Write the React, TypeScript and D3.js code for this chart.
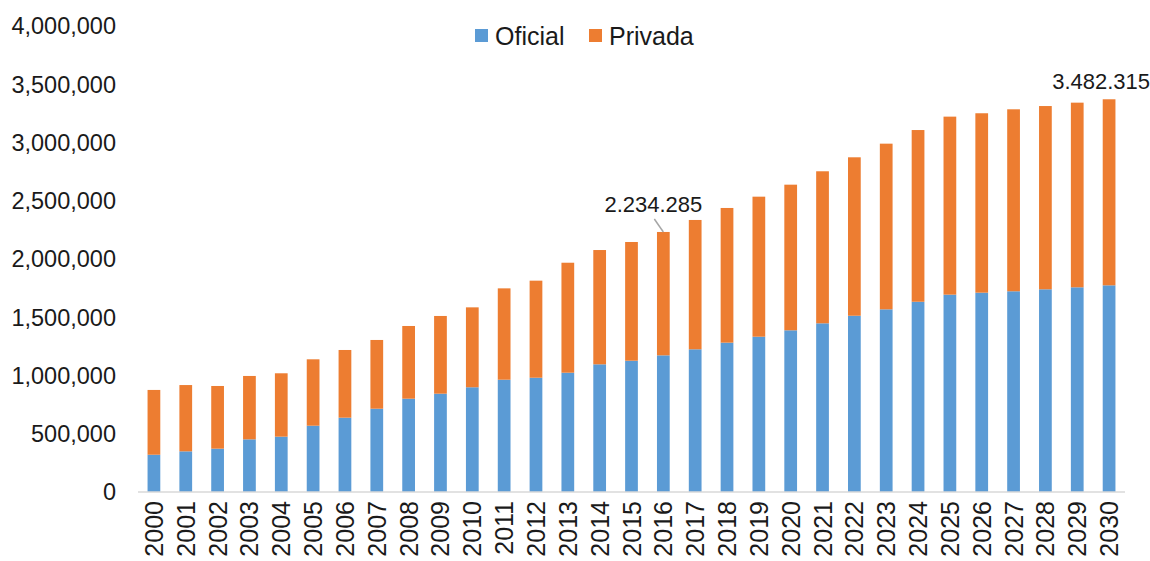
import React, { useEffect } from "react";
import * as d3 from "d3";

const years: string[] = d3.range(2000, 2031).map(String);
// values in thousands
const oficial: number[] = [320, 349, 372, 452, 475, 569, 638, 715, 801, 844, 899, 964, 981, 1024, 1096, 1127, 1173, 1225, 1282, 1333, 1388, 1448, 1513, 1568, 1633, 1694, 1711, 1723, 1740, 1757, 1774];
const privada: number[] = [556, 569, 538, 544, 544, 570, 581, 590, 624, 667, 686, 784, 833, 944, 981, 1019, 1059, 1110, 1156, 1202, 1250, 1305, 1360, 1422, 1474, 1528, 1540, 1562, 1573, 1585, 1597];
const yTicks: number[] = [0, 500000, 1000000, 1500000, 2000000, 2500000, 3000000, 3500000, 4000000];
const seriesNames: string[] = ["Oficial", "Privada"];
const seriesColors: string[] = ["#5B9BD5", "#ED7D31"];
const annotations: { year: string; label: string; leader: boolean }[] = [
  { year: "2016", label: "2.234.285", leader: true },
  { year: "2030", label: "3.482.315", leader: false },
];

const W = 1150;
const H = 561;
const FONT = "'Liberation Sans', Arial, sans-serif";

export default function App() {
  useEffect(() => {
    document.body.style.margin = "0";
  }, []);

  const rows = years.map((y, i) => ({ year: y, Oficial: oficial[i] * 1000, Privada: privada[i] * 1000 }));
  const stacked = d3.stack<any>().keys(seriesNames)(rows);

  const x = d3.scaleBand<string>().domain(years).range([138, 1125]).paddingInner(0.6).paddingOuter(0.3);
  const y = d3.scaleLinear().domain([0, 4000000]).range([492, 26]);
  const fmt = d3.format(",");

  return (
    <svg width={W} height={H} style={{ display: "block", position: "absolute", left: 0, top: 0 }} fontFamily={FONT}>
      <rect width={W} height={H} fill="#fff" />
      {/* y tick labels */}
      {yTicks.map((t) => (
        <text key={t} x={116} y={y(t)} dy="0.36em" textAnchor="end" fontSize={23.5} fill="#1a1a1a">
          {fmt(t)}
        </text>
      ))}
      {/* bars */}
      {stacked.map((s, si) => (
        <g key={s.key} fill={seriesColors[si]}>
          {s.map((d, i) => (
            <rect
              key={i}
              x={x(years[i])!}
              y={y(d[1])}
              width={x.bandwidth()}
              height={y(d[0]) - y(d[1])}
            />
          ))}
        </g>
      ))}
      {/* x axis line */}
      <line x1={138} x2={1125} y1={492} y2={492} stroke="#D9D9D9" strokeWidth={1.5} />
      {/* x labels */}
      {years.map((yr) => {
        const cx = x(yr)! + x.bandwidth() / 2;
        return (
          <text
            key={yr}
            transform={`translate(${cx},${501}) rotate(-90)`}
            textAnchor="end"
            dy="0.36em"
            fontSize={25}
            fill="#1a1a1a"
          >
            {yr}
          </text>
        );
      })}
      {/* annotations */}
      {annotations.map((a) => {
        const i = years.indexOf(a.year);
        const cx = x(a.year)! + x.bandwidth() / 2;
        const top = y((oficial[i] + privada[i]) * 1000);
        return (
          <g key={a.year}>
            {a.leader && (
              <line x1={cx - 9} y1={top - 13} x2={cx} y2={top} stroke="#A6A6A6" strokeWidth={1.5} />
            )}
            <text
              x={a.leader ? cx - 10 : cx - 8}
              y={a.leader ? top - 20 : top - 10}
              textAnchor="middle"
              fontSize={22}
              fill="#1a1a1a"
            >
              {a.label}
            </text>
          </g>
        );
      })}
      {/* legend */}
      {seriesNames.map((n, i) => {
        const lx = i === 0 ? 475 : 589;
        return (
          <g key={n}>
            <rect x={lx} y={29} width={13} height={13} fill={seriesColors[i]} />
            <text x={lx + 20} y={35.5} dy="0.36em" fontSize={25} fill="#1a1a1a">
              {n}
            </text>
          </g>
        );
      })}
    </svg>
  );
}
